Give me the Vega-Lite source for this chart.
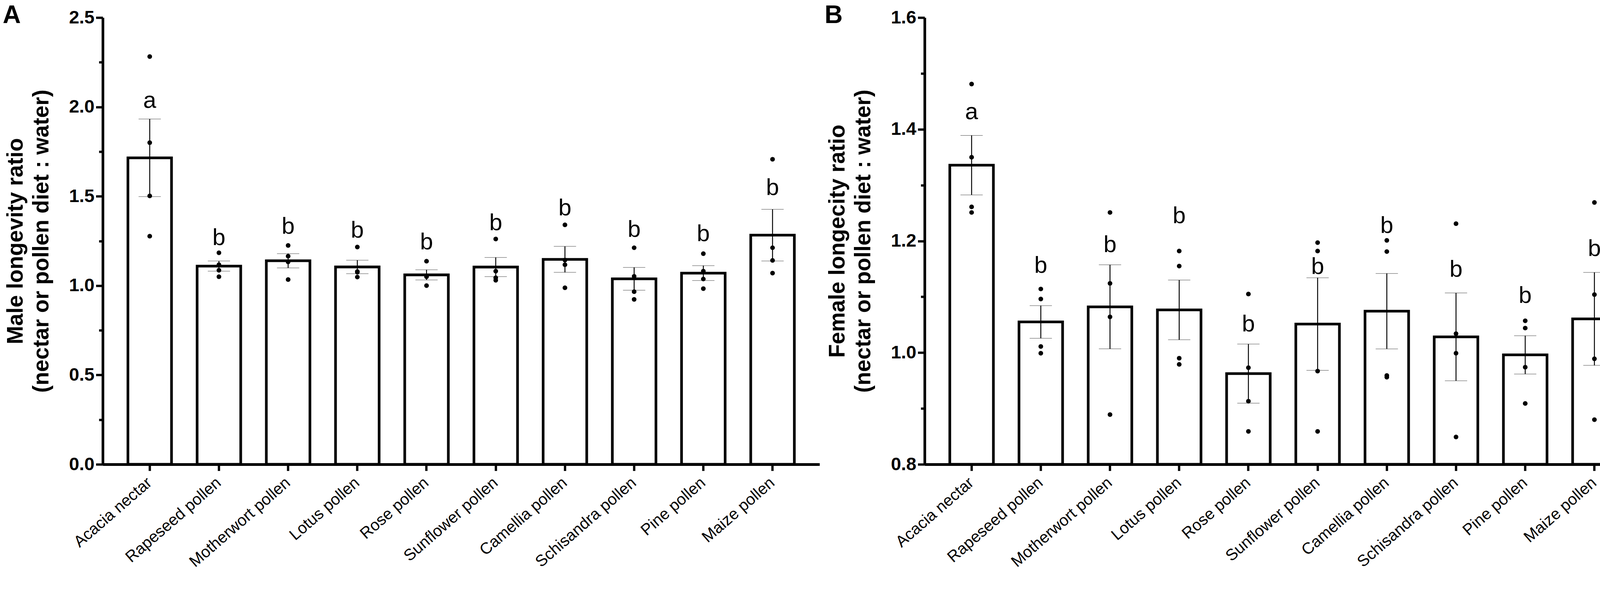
{
  "$schema": "https://vega.github.io/schema/vega-lite/v6.json",
  "autosize": {"type": "pad"},
  "padding": {"left": 7, "top": 8, "right": 2, "bottom": 8},
  "background": "white",
  "datasets": {
    "male": [
      {"diet": "Acacia nectar", "ratio": 2.282}, {"diet": "Acacia nectar", "ratio": 1.800}, {"diet": "Acacia nectar", "ratio": 1.502}, {"diet": "Acacia nectar", "ratio": 1.277},
      {"diet": "Rapeseed pollen", "ratio": 1.184}, {"diet": "Rapeseed pollen", "ratio": 1.117}, {"diet": "Rapeseed pollen", "ratio": 1.086}, {"diet": "Rapeseed pollen", "ratio": 1.050},
      {"diet": "Motherwort pollen", "ratio": 1.225}, {"diet": "Motherwort pollen", "ratio": 1.165}, {"diet": "Motherwort pollen", "ratio": 1.133}, {"diet": "Motherwort pollen", "ratio": 1.034},
      {"diet": "Lotus pollen", "ratio": 1.216}, {"diet": "Lotus pollen", "ratio": 1.079}, {"diet": "Lotus pollen", "ratio": 1.075}, {"diet": "Lotus pollen", "ratio": 1.048},
      {"diet": "Rose pollen", "ratio": 1.137}, {"diet": "Rose pollen", "ratio": 1.054}, {"diet": "Rose pollen", "ratio": 1.050}, {"diet": "Rose pollen", "ratio": 1.000},
      {"diet": "Sunflower pollen", "ratio": 1.261}, {"diet": "Sunflower pollen", "ratio": 1.081}, {"diet": "Sunflower pollen", "ratio": 1.044}, {"diet": "Sunflower pollen", "ratio": 1.030},
      {"diet": "Camellia pollen", "ratio": 1.340}, {"diet": "Camellia pollen", "ratio": 1.143}, {"diet": "Camellia pollen", "ratio": 1.117}, {"diet": "Camellia pollen", "ratio": 0.988},
      {"diet": "Schisandra pollen", "ratio": 1.212}, {"diet": "Schisandra pollen", "ratio": 1.052}, {"diet": "Schisandra pollen", "ratio": 0.966}, {"diet": "Schisandra pollen", "ratio": 0.923},
      {"diet": "Pine pollen", "ratio": 1.179}, {"diet": "Pine pollen", "ratio": 1.081}, {"diet": "Pine pollen", "ratio": 1.037}, {"diet": "Pine pollen", "ratio": 0.983},
      {"diet": "Maize pollen", "ratio": 1.707}, {"diet": "Maize pollen", "ratio": 1.212}, {"diet": "Maize pollen", "ratio": 1.141}, {"diet": "Maize pollen", "ratio": 1.070}
    ],
    "male_letters": [
      {"diet": "Acacia nectar", "group": "a", "at": 1.994},
      {"diet": "Rapeseed pollen", "group": "b", "at": 1.227},
      {"diet": "Motherwort pollen", "group": "b", "at": 1.291},
      {"diet": "Lotus pollen", "group": "b", "at": 1.269},
      {"diet": "Rose pollen", "group": "b", "at": 1.203},
      {"diet": "Sunflower pollen", "group": "b", "at": 1.310},
      {"diet": "Camellia pollen", "group": "b", "at": 1.393},
      {"diet": "Schisandra pollen", "group": "b", "at": 1.273},
      {"diet": "Pine pollen", "group": "b", "at": 1.250},
      {"diet": "Maize pollen", "group": "b", "at": 1.506}
    ],
    "female": [
      {"diet": "Acacia nectar", "ratio": 1.481}, {"diet": "Acacia nectar", "ratio": 1.350}, {"diet": "Acacia nectar", "ratio": 1.261}, {"diet": "Acacia nectar", "ratio": 1.251},
      {"diet": "Rapeseed pollen", "ratio": 1.114}, {"diet": "Rapeseed pollen", "ratio": 1.096}, {"diet": "Rapeseed pollen", "ratio": 1.011}, {"diet": "Rapeseed pollen", "ratio": 0.999},
      {"diet": "Motherwort pollen", "ratio": 1.251}, {"diet": "Motherwort pollen", "ratio": 1.124}, {"diet": "Motherwort pollen", "ratio": 1.064}, {"diet": "Motherwort pollen", "ratio": 0.889},
      {"diet": "Lotus pollen", "ratio": 1.182}, {"diet": "Lotus pollen", "ratio": 1.155}, {"diet": "Lotus pollen", "ratio": 0.990}, {"diet": "Lotus pollen", "ratio": 0.979},
      {"diet": "Rose pollen", "ratio": 1.105}, {"diet": "Rose pollen", "ratio": 0.973}, {"diet": "Rose pollen", "ratio": 0.913}, {"diet": "Rose pollen", "ratio": 0.859},
      {"diet": "Sunflower pollen", "ratio": 1.197}, {"diet": "Sunflower pollen", "ratio": 1.182}, {"diet": "Sunflower pollen", "ratio": 0.967}, {"diet": "Sunflower pollen", "ratio": 0.859},
      {"diet": "Camellia pollen", "ratio": 1.201}, {"diet": "Camellia pollen", "ratio": 1.181}, {"diet": "Camellia pollen", "ratio": 0.959}, {"diet": "Camellia pollen", "ratio": 0.956},
      {"diet": "Schisandra pollen", "ratio": 1.231}, {"diet": "Schisandra pollen", "ratio": 1.034}, {"diet": "Schisandra pollen", "ratio": 0.999}, {"diet": "Schisandra pollen", "ratio": 0.849},
      {"diet": "Pine pollen", "ratio": 1.057}, {"diet": "Pine pollen", "ratio": 1.044}, {"diet": "Pine pollen", "ratio": 0.974}, {"diet": "Pine pollen", "ratio": 0.909},
      {"diet": "Maize pollen", "ratio": 1.269}, {"diet": "Maize pollen", "ratio": 1.104}, {"diet": "Maize pollen", "ratio": 0.989}, {"diet": "Maize pollen", "ratio": 0.880}
    ],
    "female_letters": [
      {"diet": "Acacia nectar", "group": "a", "at": 1.418},
      {"diet": "Rapeseed pollen", "group": "b", "at": 1.143},
      {"diet": "Motherwort pollen", "group": "b", "at": 1.180},
      {"diet": "Lotus pollen", "group": "b", "at": 1.232},
      {"diet": "Rose pollen", "group": "b", "at": 1.038},
      {"diet": "Sunflower pollen", "group": "b", "at": 1.141},
      {"diet": "Camellia pollen", "group": "b", "at": 1.214},
      {"diet": "Schisandra pollen", "group": "b", "at": 1.136},
      {"diet": "Pine pollen", "group": "b", "at": 1.089},
      {"diet": "Maize pollen", "group": "b", "at": 1.173}
    ]
  },
  "hconcat": [
    {
      "width": 1835,
      "height": 1143,
      "title": {"text": "A", "anchor": "start", "frame": "group", "dx": -256, "offset": -51, "baseline": "top"},
      "layer": [
        {
          "data": {"name": "male"},
          "mark": {"type": "bar", "fill": "white", "stroke": "black", "strokeWidth": 6.8},
          "encoding": {
            "x": {"field": "diet", "type": "nominal", "title": null, "sort": null,
                  "scale": {"paddingInner": 0.37, "paddingOuter": 0.364}},
            "y": {"aggregate": "mean", "field": "ratio", "type": "quantitative",
                  "title": ["Male longevity ratio", "(nectar or pollen diet : water)"],
                  "scale": {"domain": [0, 2.5], "nice": false},
                  "axis": {
                    "values": [0, 0.25, 0.5, 0.75, 1, 1.25, 1.5, 1.75, 2, 2.25, 2.5],
                    "labelExpr": "abs(datum.value * 2 - round(datum.value * 2)) < 0.001 ? format(datum.value, '.1f') : ''",
                    "tickSize": {"condition": {"test": "abs(datum.value * 2 - round(datum.value * 2)) < 0.001", "value": 17.5}, "value": 9.8}
                  }}
          }
        },
        {
          "data": {"name": "male"},
          "mark": {"type": "errorbar", "extent": "stderr", "ticks": {"size": 57, "strokeWidth": 2.4, "color": "black"}, "rule": {"strokeWidth": 2.4, "color": "black"}},
          "encoding": {
            "x": {"field": "diet", "type": "nominal", "sort": null, "title": null},
            "y": {"field": "ratio", "type": "quantitative", "title": ["Male longevity ratio", "(nectar or pollen diet : water)"]}
          }
        },
        {
          "data": {"name": "male"},
          "mark": {"type": "circle", "color": "black", "size": 143, "opacity": 1},
          "encoding": {
            "x": {"field": "diet", "type": "nominal", "sort": null, "title": null},
            "y": {"field": "ratio", "type": "quantitative", "title": ["Male longevity ratio", "(nectar or pollen diet : water)"]}
          }
        },
        {
          "data": {"name": "male_letters"},
          "mark": {"type": "text", "fontSize": 60, "font": "Liberation Sans", "baseline": "alphabetic", "color": "black"},
          "encoding": {
            "x": {"field": "diet", "type": "nominal", "sort": null, "title": null},
            "y": {"field": "at", "type": "quantitative", "title": ["Male longevity ratio", "(nectar or pollen diet : water)"]},
            "text": {"field": "group"}
          }
        }
      ]
    },
    {
      "width": 1835,
      "height": 1143,
      "title": {"text": "B", "anchor": "start", "frame": "group", "dx": -256, "offset": -51, "baseline": "top"},
      "layer": [
        {
          "data": {"name": "female"},
          "mark": {"type": "bar", "fill": "white", "stroke": "black", "strokeWidth": 6.8},
          "encoding": {
            "x": {"field": "diet", "type": "nominal", "title": null, "sort": null,
                  "scale": {"paddingInner": 0.37, "paddingOuter": 0.364}},
            "y": {"aggregate": "mean", "field": "ratio", "type": "quantitative",
                  "title": ["Female longecity ratio", "(nectar or pollen diet : water)"],
                  "scale": {"domain": [0.8, 1.6], "nice": false, "zero": false},
                  "axis": {
                    "values": [0.8, 0.9, 1.0, 1.1, 1.2, 1.3, 1.4, 1.5, 1.6],
                    "labelExpr": "abs(datum.value * 5 - round(datum.value * 5)) < 0.001 ? format(datum.value, '.1f') : ''",
                    "tickSize": {"condition": {"test": "abs(datum.value * 5 - round(datum.value * 5)) < 0.001", "value": 17.5}, "value": 9.8}
                  }},
            "y2": {"datum": 0.8}
          }
        },
        {
          "data": {"name": "female"},
          "mark": {"type": "errorbar", "extent": "stderr", "ticks": {"size": 57, "strokeWidth": 2.4, "color": "black"}, "rule": {"strokeWidth": 2.4, "color": "black"}},
          "encoding": {
            "x": {"field": "diet", "type": "nominal", "sort": null, "title": null},
            "y": {"field": "ratio", "type": "quantitative", "title": ["Female longecity ratio", "(nectar or pollen diet : water)"]}
          }
        },
        {
          "data": {"name": "female"},
          "mark": {"type": "circle", "color": "black", "size": 143, "opacity": 1},
          "encoding": {
            "x": {"field": "diet", "type": "nominal", "sort": null, "title": null},
            "y": {"field": "ratio", "type": "quantitative", "title": ["Female longecity ratio", "(nectar or pollen diet : water)"]}
          }
        },
        {
          "data": {"name": "female_letters"},
          "mark": {"type": "text", "fontSize": 60, "font": "Liberation Sans", "baseline": "alphabetic", "color": "black"},
          "encoding": {
            "x": {"field": "diet", "type": "nominal", "sort": null, "title": null},
            "y": {"field": "at", "type": "quantitative", "title": ["Female longecity ratio", "(nectar or pollen diet : water)"]},
            "text": {"field": "group"}
          }
        }
      ]
    }
  ],
  "spacing": 269,
  "bounds": "flush",
  "config": {
    "font": "Liberation Sans",
    "view": {"stroke": null},
    "title": {"font": "Liberation Sans", "fontSize": 64, "fontWeight": "bold", "color": "black"},
    "axis": {
      "grid": false,
      "domainColor": "black",
      "domainWidth": 6.8,
      "tickColor": "black",
      "labelColor": "black",
      "titleColor": "black",
      "labelFont": "Liberation Sans",
      "titleFont": "Liberation Sans"
    },
    "axisX": {
      "tickSize": 16.5,
      "tickWidth": 5.9,
      "labelAngle": -41,
      "labelAlign": "right",
      "labelBaseline": "middle",
      "labelFontSize": 41,
      "labelPadding": 25,
      "labelLimit": 0
    },
    "axisY": {
      "tickWidth": 5.9,
      "labelFontSize": 47,
      "labelFontWeight": "bold",
      "labelPadding": 4,
      "titleFontSize": 56.5,
      "titleFontWeight": "bold",
      "titleLineHeight": 66,
      "titlePadding": 41
    }
  }
}
